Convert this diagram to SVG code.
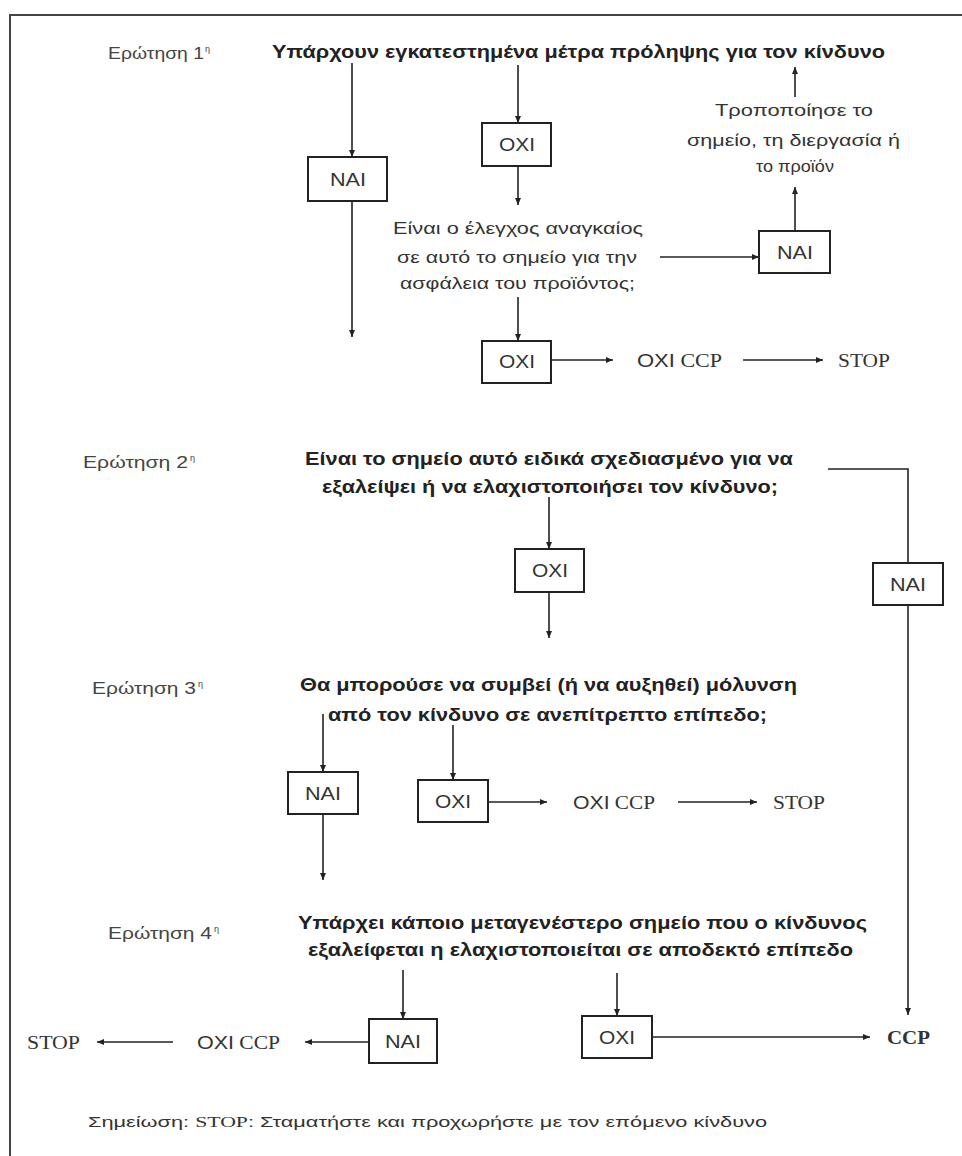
<svg xmlns="http://www.w3.org/2000/svg" width="962" height="1156" viewBox="0 0 962 1156">
<style>
.bg{fill:#ffffff}
.frame{fill:none;stroke:#444;stroke-width:2}
.box{fill:#fff;stroke:#222;stroke-width:2}
.ln{fill:none;stroke:#222;stroke-width:1.6}
.arr{marker-end:url(#ah)}
.lbl{font-family:"Liberation Sans",Arial,sans-serif;font-size:17px;fill:#444}
.sup{font-family:"Liberation Sans",Arial,sans-serif;font-size:9px;fill:#444}
.q{font-family:"Liberation Sans",Arial,sans-serif;font-size:18px;font-weight:bold;fill:#222}
.t{font-family:"Liberation Sans",Arial,sans-serif;font-size:17px;fill:#333}
.bx{font-family:"Liberation Sans",Arial,sans-serif;font-size:19px;fill:#333;text-anchor:middle}
.sf{font-family:"Liberation Serif","Times New Roman",serif;font-size:19px;fill:#333}
.ss{font-family:"Liberation Sans",Arial,sans-serif}
.note{font-family:"Liberation Sans",Arial,sans-serif;font-size:15px;fill:#333}
</style>
<defs>
<marker id="ah" markerWidth="8" markerHeight="8" refX="7" refY="4" orient="auto" markerUnits="userSpaceOnUse">
<path d="M0,1 L7,4 L0,7 Z" fill="#222"/>
</marker>
</defs>
<rect class="bg" x="0" y="0" width="962" height="1156"/>
<path class="frame" d="M10,1156 V15 H962"/>

<g id="labels">
<text class="lbl" x="108" y="59" textLength="96" lengthAdjust="spacingAndGlyphs">Ερώτηση 1</text><text class="sup" x="205" y="52">η</text>
<text class="lbl" x="83" y="468" textLength="105" lengthAdjust="spacingAndGlyphs">Ερώτηση 2</text><text class="sup" x="190" y="461">η</text>
<text class="lbl" x="92" y="694" textLength="104" lengthAdjust="spacingAndGlyphs">Ερώτηση 3</text><text class="sup" x="198" y="687">η</text>
<text class="lbl" x="108" y="939" textLength="104" lengthAdjust="spacingAndGlyphs">Ερώτηση 4</text><text class="sup" x="214" y="932">η</text>
</g>

<g id="q1">
<text class="q" x="272" y="58" textLength="613" lengthAdjust="spacingAndGlyphs">Υπάρχουν εγκατεστημένα μέτρα πρόληψης για τον κίνδυνο</text>
</g>
<g id="n_nai1">
<rect class="box" x="308" y="157" width="79" height="44"/>
<text class="bx" x="348" y="186" textLength="36" lengthAdjust="spacingAndGlyphs">NAI</text>
</g>
<g id="n_oxi1a">
<rect class="box" x="482" y="123" width="69" height="43"/>
<text class="bx" x="517" y="151" textLength="36" lengthAdjust="spacingAndGlyphs">OXI</text>
</g>
<g id="q1b">
<text class="t" x="393" y="234" textLength="250" lengthAdjust="spacingAndGlyphs">Είναι ο έλεγχος αναγκαίος</text>
<text class="t" x="397" y="263" textLength="240" lengthAdjust="spacingAndGlyphs">σε αυτό το σημείο για την</text>
<text class="t" x="400" y="289" textLength="235" lengthAdjust="spacingAndGlyphs">ασφάλεια του προϊόντος;</text>
</g>
<g id="n_nai1r">
<rect class="box" x="759" y="231" width="71" height="42"/>
<text class="bx" x="795" y="259" textLength="36" lengthAdjust="spacingAndGlyphs">NAI</text>
</g>
<g id="modify">
<text class="t" x="715" y="116" textLength="158" lengthAdjust="spacingAndGlyphs">Τροποποίησε το</text>
<text class="t" x="687" y="146" textLength="213" lengthAdjust="spacingAndGlyphs">σημείο, τη διεργασία ή</text>
<text class="t" x="756" y="172" textLength="78" lengthAdjust="spacingAndGlyphs">το προϊόν</text>
</g>
<g id="n_oxi1b">
<rect class="box" x="482" y="341" width="69" height="42"/>
<text class="bx" x="517" y="368" textLength="36" lengthAdjust="spacingAndGlyphs">OXI</text>
</g>
<g id="r1_noccp">
<text class="sf" x="637" y="367" textLength="85" lengthAdjust="spacingAndGlyphs"><tspan class="ss">OXI</tspan> CCP</text>
</g>
<g id="r1_stop">
<text class="sf" x="838" y="367" textLength="52" lengthAdjust="spacingAndGlyphs">STOP</text>
</g>

<g id="q2">
<text class="q" x="305" y="465" textLength="488" lengthAdjust="spacingAndGlyphs">Είναι το σημείο αυτό ειδικά σχεδιασμένο για να</text>
<text class="q" x="322" y="493" textLength="456" lengthAdjust="spacingAndGlyphs">εξαλείψει ή να ελαχιστοποιήσει τον κίνδυνο;</text>
</g>
<g id="n_oxi2">
<rect class="box" x="515" y="549" width="69" height="43"/>
<text class="bx" x="550" y="577" textLength="36" lengthAdjust="spacingAndGlyphs">OXI</text>
</g>
<g id="n_nai2">
<rect class="box" x="873" y="563" width="70" height="42"/>
<text class="bx" x="908" y="591" textLength="36" lengthAdjust="spacingAndGlyphs">NAI</text>
</g>

<g id="q3">
<text class="q" x="300" y="691" textLength="497" lengthAdjust="spacingAndGlyphs">Θα μπορούσε να συμβεί (ή να αυξηθεί) μόλυνση</text>
<text class="q" x="328" y="721" textLength="439" lengthAdjust="spacingAndGlyphs">από τον κίνδυνο σε ανεπίτρεπτο επίπεδο;</text>
</g>
<g id="n_nai3">
<rect class="box" x="288" y="772" width="70" height="42"/>
<text class="bx" x="323" y="800" textLength="36" lengthAdjust="spacingAndGlyphs">NAI</text>
</g>
<g id="n_oxi3">
<rect class="box" x="418" y="780" width="70" height="42"/>
<text class="bx" x="453" y="808" textLength="36" lengthAdjust="spacingAndGlyphs">OXI</text>
</g>
<g id="r3_noccp">
<text class="sf" x="573" y="809" textLength="82" lengthAdjust="spacingAndGlyphs"><tspan class="ss">OXI</tspan> CCP</text>
</g>
<g id="r3_stop">
<text class="sf" x="773" y="809" textLength="52" lengthAdjust="spacingAndGlyphs">STOP</text>
</g>

<g id="q4">
<text class="q" x="298" y="929" textLength="569" lengthAdjust="spacingAndGlyphs">Υπάρχει κάποιο μεταγενέστερο σημείο που ο κίνδυνος</text>
<text class="q" x="308" y="956" textLength="545" lengthAdjust="spacingAndGlyphs">εξαλείφεται η ελαχιστοποιείται σε αποδεκτό επίπεδο</text>
</g>
<g id="n_nai4">
<rect class="box" x="369" y="1019" width="68" height="44"/>
<text class="bx" x="403" y="1048" textLength="36" lengthAdjust="spacingAndGlyphs">NAI</text>
</g>
<g id="n_oxi4">
<rect class="box" x="582" y="1016" width="70" height="42"/>
<text class="bx" x="617" y="1044" textLength="36" lengthAdjust="spacingAndGlyphs">OXI</text>
</g>
<g id="r4_noccp">
<text class="sf" x="197" y="1049" textLength="83" lengthAdjust="spacingAndGlyphs"><tspan class="ss">OXI</tspan> CCP</text>
</g>
<g id="r4_stop">
<text class="sf" x="27" y="1049" textLength="53" lengthAdjust="spacingAndGlyphs">STOP</text>
</g>
<g id="ccp">
<text class="sf" x="887" y="1044" font-weight="bold" fill="#222" textLength="43" lengthAdjust="spacingAndGlyphs">CCP</text>
</g>

<g id="note">
<text class="note" x="88" y="1127" textLength="679" lengthAdjust="spacingAndGlyphs">Σημείωση: <tspan font-family="Liberation Serif, serif">STOP</tspan>: Σταματήστε και προχωρήστε με τον επόμενο κίνδυνο</text>
</g>

<g id="connectors">
<path class="ln arr" d="M352,63 V157"/>
<path class="ln arr" d="M352,201 V337"/>
<path class="ln arr" d="M518,65 V123"/>
<path class="ln arr" d="M518,166 V205"/>
<path class="ln arr" d="M518,297 V341"/>
<path class="ln arr" d="M551,360 H613"/>
<path class="ln arr" d="M743,360 H823"/>
<path class="ln arr" d="M660,257 H759"/>
<path class="ln arr" d="M795,231 V187"/>
<path class="ln arr" d="M795,97 V67"/>
<path class="ln" d="M828,469 H908 V563"/>
<path class="ln arr" d="M908,605 V1015"/>
<path class="ln arr" d="M549,497 V549"/>
<path class="ln arr" d="M549,592 V638"/>
<path class="ln arr" d="M323,714 V772"/>
<path class="ln arr" d="M453,725 V780"/>
<path class="ln arr" d="M488,802 H547"/>
<path class="ln arr" d="M678,802 H757"/>
<path class="ln arr" d="M323,814 V880"/>
<path class="ln arr" d="M403,970 V1019"/>
<path class="ln arr" d="M369,1042 H305"/>
<path class="ln arr" d="M173,1042 H97"/>
<path class="ln arr" d="M617,973 V1016"/>
<path class="ln arr" d="M652,1037 H870"/>
</g>
</svg>
